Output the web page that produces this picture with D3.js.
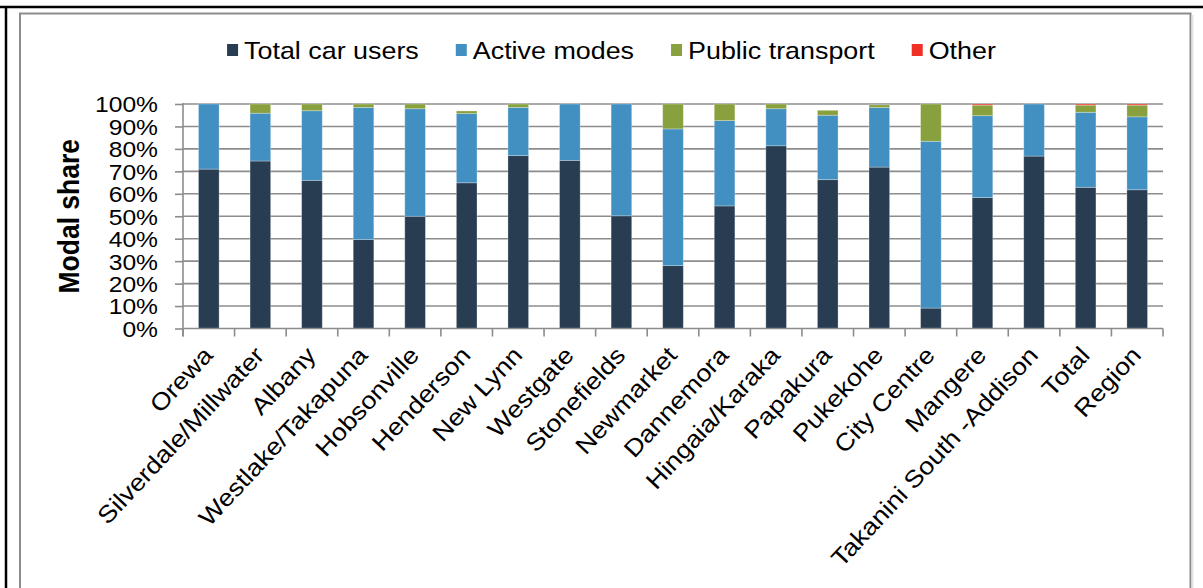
<!DOCTYPE html>
<html>
<head>
<meta charset="utf-8">
<script src="https://cdn.jsdelivr.net/npm/d3@7"></script>
<style>
  html, body { margin: 0; padding: 0; background: #fff; }
  svg { display: block; font-family: "Liberation Sans", Arial, sans-serif; }
</style>
</head>
<body>
<svg id="chart" width="1203" height="588"></svg>
<script>
// Modal share by area (percent of trips)
const categories = ["Orewa", "Silverdale/Millwater", "Albany", "Westlake/Takapuna", "Hobsonville",
  "Henderson", "New Lynn", "Westgate", "Stonefields", "Newmarket", "Dannemora", "Hingaia/Karaka",
  "Papakura", "Pukekohe", "City Centre", "Mangere", "Takanini South -Addison", "Total", "Region"];
const seriesNames = ["Total car users", "Active modes", "Public transport", "Other"];
const carUsers    = [71, 74.6, 66, 39.6, 50, 64.9, 77, 74.9, 50.2, 28, 54.6, 81.4, 66.3, 71.9, 9.1, 58.3, 76.8, 62.9, 61.8];
const activeModes = [29, 21.3, 31, 58.9, 47.9, 30.8, 21.5, 25.1, 49.8, 60.9, 38, 16.5, 28.7, 26.5, 74.3, 36.5, 23.2, 33.4, 32.5];
const publicTransport = [0, 4.1, 3, 1.5, 2.1, 1.2, 1.5, 0, 0, 11.1, 7.4, 2.1, 2.2, 1.2, 16.6, 4.7, 0, 3.2, 5.2];
const other       = [0, 0, 0, 0, 0, 0, 0, 0, 0, 0, 0, 0, 0, 0, 0, 0.5, 0, 0.5, 0.5];
const yTicks = [0, 10, 20, 30, 40, 50, 60, 70, 80, 90, 100];

const colors = ["#283d52", "#4290c2", "#88a03d", "#ee3124"];
const seriesValues = [carUsers, activeModes, publicTransport, other];

const rows = categories.map((c, i) => {
  const r = { category: c };
  seriesNames.forEach((s, k) => { r[s] = seriesValues[k][i]; });
  return r;
});

const svg = d3.select("#chart");
const plot = { left: 183, right: 1163, top: 104, bottom: 328.5 };
const stretch = 1.12; // horizontal text stretch

// Frames
svg.append("line").attr("x1", 0).attr("x2", 1203).attr("y1", 7).attr("y2", 7)
  .attr("stroke", "#000").attr("stroke-width", 2.5);
svg.append("line").attr("x1", 6).attr("x2", 6).attr("y1", 6).attr("y2", 588)
  .attr("stroke", "#000").attr("stroke-width", 2.5);
svg.append("rect").attr("x", 20).attr("y", 13.5).attr("width", 1170.5).attr("height", 600)
  .attr("fill", "none").attr("stroke", "#8c8c8c").attr("stroke-width", 2);
svg.append("line").attr("x1", 1192.5).attr("x2", 1192.5).attr("y1", 15).attr("y2", 588)
  .attr("stroke", "#e4e4e4").attr("stroke-width", 2);

const x = d3.scaleBand().domain(categories)
  .range([plot.left, plot.right]).paddingInner(0.6).paddingOuter(0.3);
const y = d3.scaleLinear().domain([0, 100]).range([plot.bottom, plot.top]);

// Gridlines
svg.append("g").selectAll("line").data(yTicks.filter(t => t > 0)).join("line")
  .attr("x1", plot.left).attr("x2", plot.right)
  .attr("y1", d => y(d)).attr("y2", d => y(d))
  .attr("stroke", "#8c8c8c").attr("stroke-width", 1.6);

// Stacked bars
const stack = d3.stack().keys(seriesNames);
const layers = stack(rows);
svg.append("g").selectAll("g").data(layers).join("g")
  .attr("fill", (d, i) => colors[i])
  .selectAll("rect").data(d => d.filter(p => p[1] - p[0] > 0)).join("rect")
  .attr("x", d => x(d.data.category))
  .attr("width", x.bandwidth())
  .attr("y", d => y(d[1]))
  .attr("height", d => y(d[0]) - y(d[1]))
  .attr("stroke", "#ffffff").attr("stroke-opacity", 0.35).attr("stroke-width", 0.8);

// Y axis
const yAxis = svg.append("g").attr("transform", `translate(${plot.left},0)`)
  .call(d3.axisLeft(y).tickValues(yTicks).tickSize(8).tickFormat(d => d + "%"));
yAxis.select(".domain").attr("stroke", "#8c8c8c").attr("stroke-width", 1.6)
  .attr("d", `M0,${plot.top - 1}V${plot.bottom + 8}`);
yAxis.selectAll(".tick line").attr("stroke", "#8c8c8c").attr("stroke-width", 1.6);
yAxis.selectAll(".tick text").remove();
yAxis.selectAll(".tick").append("text")
  .attr("transform", `translate(-25,0) scale(${stretch},1)`)
  .attr("text-anchor", "end").attr("dy", "0.36em")
  .attr("fill", "#000").style("font-size", "22px")
  .text(d => d + "%");

// X axis: line and category boundary ticks
const xAxisG = svg.append("g");
xAxisG.append("line").attr("x1", plot.left).attr("x2", plot.right)
  .attr("y1", plot.bottom).attr("y2", plot.bottom)
  .attr("stroke", "#8c8c8c").attr("stroke-width", 1.6);
const step = x.step();
const boundaries = d3.range(categories.length + 1).map(i => x(categories[0]) - x.paddingOuter() * step + i * step);
xAxisG.selectAll("line.tk").data(boundaries).join("line").attr("class", "tk")
  .attr("x1", d => d).attr("x2", d => d)
  .attr("y1", plot.bottom).attr("y2", plot.bottom + 8)
  .attr("stroke", "#8c8c8c").attr("stroke-width", 1.6);

// Rotated category labels
xAxisG.selectAll("text").data(categories).join("text")
  .attr("transform", d => `translate(${x(d) + x.bandwidth() / 2 - 1},${plot.bottom + 22}) rotate(-47) scale(${stretch},1)`)
  .attr("text-anchor", "end").attr("dy", "0.36em")
  .attr("fill", "#000").style("font-size", "24px")
  .text(d => d);

// Axis title
svg.append("text")
  .attr("transform", `translate(69,${(plot.top + plot.bottom) / 2}) scale(1.1,1) rotate(-90)`)
  .attr("text-anchor", "middle").attr("dy", "0.35em")
  .style("font-size", "26.5px").style("font-weight", "bold")
  .text("Modal share");

// Legend
const legend = svg.append("g");
const items = legend.selectAll("g").data(seriesNames).join("g");
items.append("rect").attr("width", 11).attr("height", 12).attr("y", -6)
  .attr("fill", (d, i) => colors[i]);
const texts = items.append("text")
  .attr("transform", `translate(17,0) scale(${stretch},1)`)
  .attr("dy", "0.36em").style("font-size", "24px").text(d => d);
let cursor = 0;
const positions = [];
texts.each(function (d) {
  positions.push(cursor);
  cursor += 17 + this.getComputedTextLength() * stretch + 37;
});
const legendWidth = cursor - 37;
const legendStart = 611.5 - legendWidth / 2;
items.attr("transform", (d, i) => `translate(${legendStart + positions[i]},50)`);
</script>
</body>
</html>
